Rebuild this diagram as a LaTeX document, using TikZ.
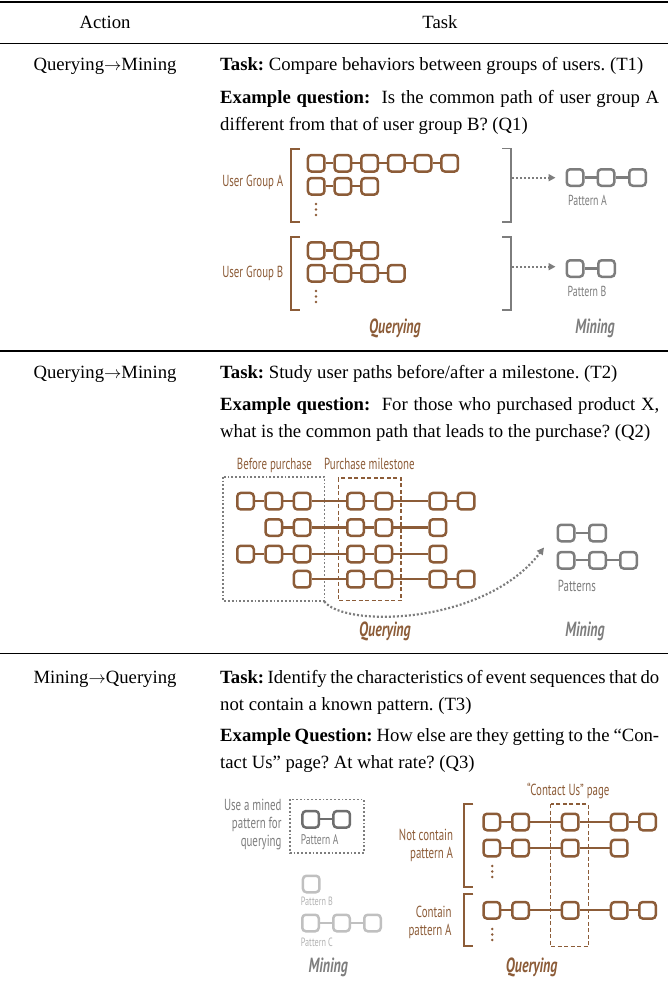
\documentclass[tikz,border=0pt]{standalone}
\usepackage{fontspec}
\setmainfont{Liberation Serif}
\newfontfamily\dg[FakeStretch=0.68]{PT Sans}
\usetikzlibrary{arrows.meta}
\frenchspacing
\definecolor{brn}{RGB}{140,92,56}
\definecolor{gry}{RGB}{125,125,125}
\definecolor{dgry}{RGB}{110,110,110}
\definecolor{lgry}{RGB}{192,192,192}
\definecolor{ltxt}{RGB}{178,178,178}
\tikzset{
 bx/.style={draw=#1, line width=2.5pt, rounded corners=3.5pt, minimum width=16.5pt, minimum height=16.5pt, inner sep=0pt, fill=white},
 lk/.style={draw=#1, line width=2.2pt},
 txt/.style={anchor=base, inner sep=0pt, font=\fontsize{18.7}{23}\selectfont},
 txtl/.style={anchor=base west, inner sep=0pt, font=\fontsize{18.7}{23}\selectfont},
 lbl/.style={inner sep=0pt, font=\dg\fontsize{16}{18}\selectfont, text=#1},
 slbl/.style={inner sep=0pt, anchor=base west, font=\dg\fontsize{#1}{14}\selectfont},
 phase/.style={anchor=base, inner sep=0pt, font=\dg\bfseries\itshape\fontsize{20.5}{23}\selectfont, text=#1},
 brk/.style={draw=#1, line width=1.7pt},
 rulez/.style={draw=black, line width=#1},
 dotarr/.style={draw=gry, line width=2pt, dash pattern=on 2pt off 2pt, -{Triangle[length=7pt,width=7pt]}},
 dotbox/.style={draw=gry, line width=1.6pt, dash pattern=on 1.8pt off 2pt},
 dashbox/.style={draw=brn, line width=1.2pt, dash pattern=on 4pt off 2.5pt},
}
\newcommand{\seqrow}[4]{%
 \foreach \xx [count=\ii, remember=\ii as \jj (initially 0)] in {#4} {
   \node[bx=#3] (#1-\ii) at (\xx,#2) {};
   \ifnum\ii>1 \draw[lk=#3] (#1-\jj.east) -- (#1-\ii.west); \fi
 }}
\newcommand{\dotcol}[3]{\foreach \yy in {0,5.5,11} {\fill[#3] (#1,#2+\yy) circle (1.4pt);}}
\begin{document}
\begin{tikzpicture}[x=1pt,y=-1pt]
\useasboundingbox (0,0) rectangle (668,993);
% rules
\draw[rulez=1.8pt] (0,2.2) -- (668,2.2);
\draw[rulez=1.4pt] (0,43.3) -- (668,43.3);
\draw[rulez=1.4pt] (0,351) -- (668,351);
\draw[rulez=1.4pt] (0,653.5) -- (668,653.5);
% header
\node[txt] (hA) at (105,28.3) {Action};
\node[txt] (hT) at (440,28.3) {Task};
% row 1 text
\node[txt] (a1) at (105,70) {Querying$\rightarrow$Mining};
\node[txtl] (t1) at (220,70) {\textbf{Task:} Compare behaviors between groups of users. (T1)};
\node[txtl] (q1a) at (220,103) {\makebox[439pt][s]{\textbf{Example question:}\ \ Is the common path of user group A}};
\node[txtl] (q1b) at (220,130.5) {different from that of user group B? (Q1)};
% row 2 text
\node[txt] (a2) at (105,378) {Querying$\rightarrow$Mining};
\node[txtl] (t2) at (220,378) {\textbf{Task:} Study user paths before/after a milestone. (T2)};
\node[txtl] (q2a) at (220,410) {\makebox[439pt][s]{\textbf{Example question:}\ \ For those who purchased product X,}};
\node[txtl] (q2b) at (220,437.5) {what is the common path that leads to the purchase? (Q2)};
% row 3 text
\node[txt] (a3) at (105,683) {Mining$\rightarrow$Querying};
\node[txtl] (t3a) at (220,683) {\makebox[439pt][s]{\textbf{Task:} Identify the characteristics of event sequences that do}};
\node[txtl] (t3b) at (220,710.5) {not contain a known pattern. (T3)};
\node[txtl] (q3a) at (220,741) {\makebox[439pt][s]{\textbf{Example Question:} How else are they getting to the “Con-}};
\node[txtl] (q3b) at (220,768.5) {tact Us” page? At what rate? (Q3)};

% ================= diagram 1
\node[lbl=brn, anchor=base east] (ugA) at (283.5,186) {User Group A};
\node[lbl=brn, anchor=base east] (ugB) at (283.5,277.3) {User Group B};
\draw[brk=brn] (300,149.3) -- (291,149.3) -- (291,222) -- (300,222);
\draw[brk=brn] (300,236.7) -- (291,236.7) -- (291,310) -- (300,310);
\draw[brk=gry] (502,148.5) -- (511,148.5) -- (511,222) -- (502,222);
\draw[brk=gry] (502,236.7) -- (511,236.7) -- (511,310) -- (502,310);
\seqrow{gA1}{163.3}{brn}{316.2,342.9,369.6,396.3,423,449.7}
\seqrow{gA2}{186.3}{brn}{316.2,342.9,369.6}
\dotcol{316}{204}{brn}
\seqrow{gB1}{250.5}{brn}{316.2,342.9,369.6}
\seqrow{gB2}{273.3}{brn}{316.2,342.9,369.6,396.3}
\dotcol{316}{291}{brn}
\seqrow{pA}{177.5}{gry}{575,606,637.5}
\seqrow{pB}{268.5}{gry}{575,606.5}
\coordinate (arA) at (512,177.7);
\coordinate (arB) at (512,266.7);
\draw[dotarr, shorten >=10pt] (arA) -- (arA -| pA-1.west);
\draw[dotarr, shorten >=10pt] (arB) -- (arB -| pB-1.west);
\node[lbl=gry, anchor=base west, font=\dg\fontsize{14.5}{16}\selectfont] (lpA) at (568,205.3) {Pattern A};
\node[lbl=gry, anchor=base west, font=\dg\fontsize{14.5}{16}\selectfont] (lpB) at (567.5,296.7) {Pattern B};
\node[phase=brn] (ph1q) at (395,333.3) {Querying};
\node[phase=gry] (ph1m) at (595,333.3) {Mining};

% ================= diagram 2
\node[lbl=brn, anchor=base west] (bp) at (236.7,469.3) {Before purchase};
\node[lbl=brn, anchor=base west] (pm) at (324,469.3) {Purchase milestone};
\draw[dotbox] (222.7,476.7) rectangle (324.3,600.7);
\draw[dashbox] (338.3,478) rectangle (401,600.7);
\seqrow{s1}{501.2}{brn}{245.5,273.8,302.2,355.5,383.8,437.8,466.2}
\seqrow{s2}{527.5}{brn}{273.8,302.2,355.5,383.8,437.8}
\seqrow{s3}{554}{brn}{245.5,273.8,302.2,355.5,383.8,437.8}
\seqrow{s4}{579.2}{brn}{302.2,355.5,383.8,437.8,466.2}
\seqrow{pp1}{533}{gry}{566,597.5}
\seqrow{pp2}{560.3}{gry}{566,597.5,628.5}
\node[lbl=gry, anchor=base west] (pats) at (557.7,591.7) {Patterns};
\coordinate (cvS) at (324.3,601.5);
\coordinate (cvE) at (544,547.5);
\draw[dotarr, line width=2.2pt] (cvS) .. controls (345,628) and (485,625) .. (cvE);
\node[phase=brn] (ph2q) at (385,636.7) {Querying};
\node[phase=gry] (ph2m) at (585,636.7) {Mining};

% ================= diagram 3
\node[lbl=gry, anchor=base east] (um1) at (281.7,810) {Use a mined};
\node[lbl=gry, anchor=base east] (um2) at (281.7,828.3) {pattern for};
\node[lbl=gry, anchor=base east] (um3) at (281.7,846.7) {querying};
\draw[dotbox] (290,799.3) rectangle (364,852.7);
\seqrow{mA}{819.3}{dgry}{310.7,341.7}
\node[slbl=14, text=gry] (lmA) at (300.7,844) {Pattern A};
\node[bx=lgry] (mB-1) at (311.2,884) {};
\node[slbl=12, text=ltxt] (lmB) at (300.7,905.7) {Pattern B};
\seqrow{mC}{923}{lgry}{310.5,341.5,372.5}
\node[slbl=12, text=ltxt] (lmC) at (300.7,946.7) {Pattern C};
\node[phase=gry] (ph3m) at (328.3,972.7) {Mining};

\node[lbl=brn, anchor=base] (cu) at (568.3,795) {“Contact Us” page};
\draw[dashbox] (550.7,804) rectangle (588.3,946.7);
\draw[brk=brn] (473.3,804) -- (464,804) -- (464,886.7) -- (473.3,886.7);
\draw[brk=brn] (473.3,894.3) -- (464,894.3) -- (464,946) -- (473.3,946);
\node[lbl=brn, anchor=base east] (nc1) at (453.3,840) {Not contain};
\node[lbl=brn, anchor=base east] (nc2) at (453.3,858.3) {pattern A};
\node[lbl=brn, anchor=base east] (c1) at (451.7,917.3) {Contain};
\node[lbl=brn, anchor=base east] (c2) at (451.7,935.7) {pattern A};
\seqrow{q1}{822}{brn}{491.8,520.5,570.2,619.2,647.5}
\seqrow{q2}{848}{brn}{491.8,520.5,570.2,619.2}
\dotcol{492.3}{866}{brn}
\seqrow{q3}{910.3}{brn}{491.8,520.5,570.2,619.2,647.5}
\dotcol{492.3}{929}{brn}
\node[phase=brn] (ph3q) at (531.7,972.7) {Querying};
\end{tikzpicture}
\end{document}
